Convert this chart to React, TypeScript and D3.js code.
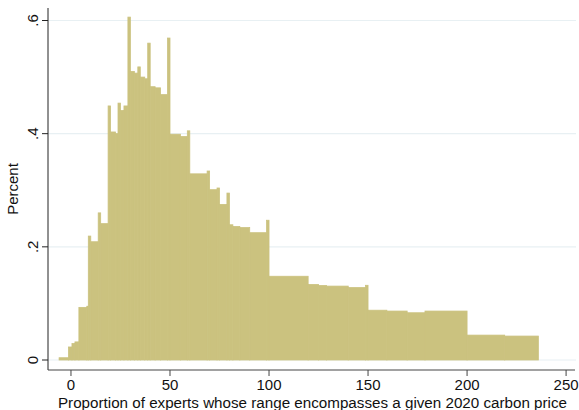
import React from "react";
import * as d3 from "d3";

// Histogram step edges (carbon price, $) and the percentage in each step
const binEdges = [
  -6, -1.25, 0.5, 2, 4, 8, 8.75, 10, 13.75, 15, 18.75, 20, 22.5, 23.75, 25,
  26.75, 28.75, 30, 32, 33.75, 35, 37.25, 38.75, 40, 42.5, 45.25, 48.75, 50,
  55.25, 58.75, 60, 68.75, 70, 73.75, 75, 78.75, 80, 81.75, 85.25, 90.25,
  98.75, 100, 119.75, 125, 129, 140, 148.75, 150, 159.5, 169.75, 178.75, 200,
  219, 236,
];
const binPercent = [
  0.004, 0.023, 0.029, 0.032, 0.093, 0.095, 0.219, 0.209, 0.26, 0.241, 0.449,
  0.403, 0.4, 0.454, 0.441, 0.449, 0.606, 0.51, 0.507, 0.518, 0.5, 0.497,
  0.56, 0.483, 0.481, 0.469, 0.569, 0.399, 0.395, 0.405, 0.329, 0.334, 0.301,
  0.304, 0.275, 0.295, 0.239, 0.236, 0.234, 0.225, 0.247, 0.148, 0.1335,
  0.1317, 0.1306, 0.128, 0.132, 0.088, 0.0865, 0.0835, 0.0865, 0.044, 0.0423,
];

const xTicks = [0, 50, 100, 150, 200, 250];
const yTicks = [0, 0.2, 0.4, 0.6];
const yTickLabels = ["0", ".2", ".4", ".6"];

const xTitle = "Proportion of experts whose range encompasses a given 2020 carbon price";
const yTitle = "Percent";

const W = 579;
const H = 410;
const font = "'Liberation Sans', Arial, Helvetica, sans-serif";

export default function App() {
  const x = d3.scaleLinear().domain([-11.6, 254.5]).range([48, 575]);
  const y = d3.scaleLinear().domain([0, 0.6]).range([360, 20.5]);
  const axisY = 370;
  const axisX = 48;

  const bins = binPercent.map((v, i) => ({ x0: binEdges[i], x1: binEdges[i + 1], v }));

  return (
    <svg
      width={W}
      height={H}
      style={{ position: "absolute", left: 0, top: 0, background: "#fff" }}
      fontFamily={font}
    >
      <rect x={0} y={0} width={W} height={H} fill="#fff" />
      {/* gridlines */}
      {yTicks.map((t) => (
        <line
          key={"g" + t}
          x1={axisX}
          x2={576}
          y1={y(t)}
          y2={y(t)}
          stroke="#e8f0f3"
          strokeWidth={1.2}
        />
      ))}
      {/* bars */}
      {bins.map((b, i) => (
        <rect
          key={i}
          x={x(b.x0)}
          y={y(b.v)}
          width={x(b.x1) - x(b.x0)}
          height={y(0) - y(b.v)}
          fill="#cbc27f"
          stroke="#cbc27f"
          strokeWidth={0.8}
        />
      ))}
      {/* y axis */}
      <line x1={axisX} x2={axisX} y1={8} y2={axisY} stroke="#222" strokeWidth={1} />
      {yTicks.map((t, i) => (
        <g key={"y" + t}>
          <line x1={axisX - 6} x2={axisX} y1={y(t)} y2={y(t)} stroke="#222" strokeWidth={1} />
          <text
            transform={`translate(${axisX - 10},${y(t)}) rotate(-90)`}
            textAnchor="middle"
            fontSize={15}
            fill="#111"
          >
            {yTickLabels[i]}
          </text>
        </g>
      ))}
      <text
        transform={`translate(18,${(8 + axisY) / 2}) rotate(-90)`}
        textAnchor="middle"
        fontSize={15}
        fill="#111"
      >
        {yTitle}
      </text>
      {/* x axis */}
      <line x1={axisX} x2={575} y1={axisY} y2={axisY} stroke="#444" strokeWidth={1} />
      {xTicks.map((t) => (
        <g key={"x" + t}>
          <line x1={x(t)} x2={x(t)} y1={axisY} y2={axisY + 6} stroke="#444" strokeWidth={1} />
          <text x={x(t)} y={axisY + 20} textAnchor="middle" fontSize={15} fill="#111">
            {t}
          </text>
        </g>
      ))}
      <text x={(axisX + 575) / 2 + 1} y={408} textAnchor="middle" fontSize={15.2} fill="#111">
        {xTitle}
      </text>
    </svg>
  );
}
